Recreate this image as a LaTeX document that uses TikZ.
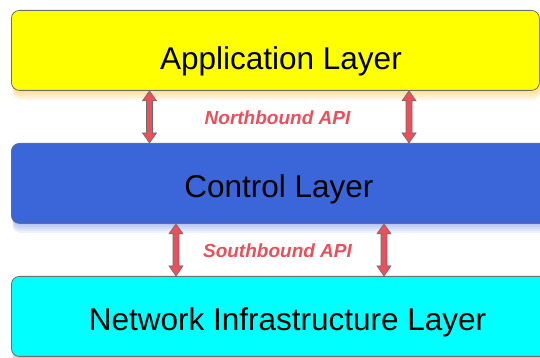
\documentclass[tikz,border=0pt]{standalone}
\usepackage{fontspec}
\setmainfont{Liberation Sans}
\usetikzlibrary{calc}
\definecolor{appyellow}{HTML}{FFFF00}
\definecolor{ctlblue}{HTML}{3A66D9}
\definecolor{netcyan}{HTML}{00FFFF}
\definecolor{apired}{HTML}{E9505C}
\definecolor{edgegray}{HTML}{6E6E6E}

% double-headed block arrow between two layers: x position, upper node, lower node
\newcommand\layerlink[3]{%
  \coordinate (lt) at (#1,0 |- #2.south);
  \coordinate (lb) at (#1,0 |- #3.north);
  \draw[apiarrow] (lt) -- ++(7,-10) -- ++(-4,0) -- ($(lb)+(3,10)$) -- ++(4,0)
    -- (lb) -- ++(-7,10) -- ++(4,0) -- ($(lt)+(-3,-10)$) -- ++(-4,0) -- cycle;
}

% soft shadow under a layer box
\newcommand\layershadow[5]{% x1, y1(bottom), x2, y2(top), colour
  \foreach \k in {2,4,...,10}
    \fill[#5, opacity=0.1, rounded corners=8pt] (#1+1.5,#2-\k) rectangle (#3+1.5,#4-\k);
}

\begin{document}
\begin{tikzpicture}[x=1pt,y=1pt,
  layerbox/.style={draw=edgegray, line width=0.8pt, rounded corners=8pt,
    minimum height=80pt, inner sep=0pt, anchor=north west},
  layertext/.style={font=\fontsize{31.5}{37}\selectfont, text=black,
    inner sep=0pt, anchor=base},
  apilabel/.style={font=\fontsize{19}{23}\selectfont\bfseries\itshape,
    text=apired, inner sep=0pt, anchor=base},
  apiarrow/.style={fill=apired, draw=gray!85!black, line width=0.6pt, line join=miter}
]
\useasboundingbox (0,0) rectangle (540,358);
\fill[white] (0,0) rectangle (540,358);
\clip (0,0) rectangle (540,358);

% shadows
\layershadow{11}{268}{539}{348}{orange!55!yellow}
\layershadow{11}{135}{571}{215}{ctlblue!85!white}
\layershadow{11}{2}{571}{82}{gray}

% layers
\node[layerbox, fill=appyellow, minimum width=528pt] (app) at (11,348) {};
\node[layerbox, fill=ctlblue, minimum width=560pt] (ctl) at (11,215) {};
\node[layerbox, fill=netcyan, minimum width=560pt] (net) at (11,82) {};

\node[layertext] (apptext) at (281,288) {Application Layer};
\node[layertext] (ctltext) at (279,160) {Control Layer};
\node[layertext] (nettext) at (287.5,27) {Network Infrastructure Layer};

% interfaces
\layerlink{149.5}{app}{ctl}
\layerlink{409}{app}{ctl}
\layerlink{176}{ctl}{net}
\layerlink{384}{ctl}{net}

\node[apilabel] (north) at (277.5,233) {Northbound API};
\node[apilabel] (south) at (277.5,100) {Southbound API};
\end{tikzpicture}
\end{document}
